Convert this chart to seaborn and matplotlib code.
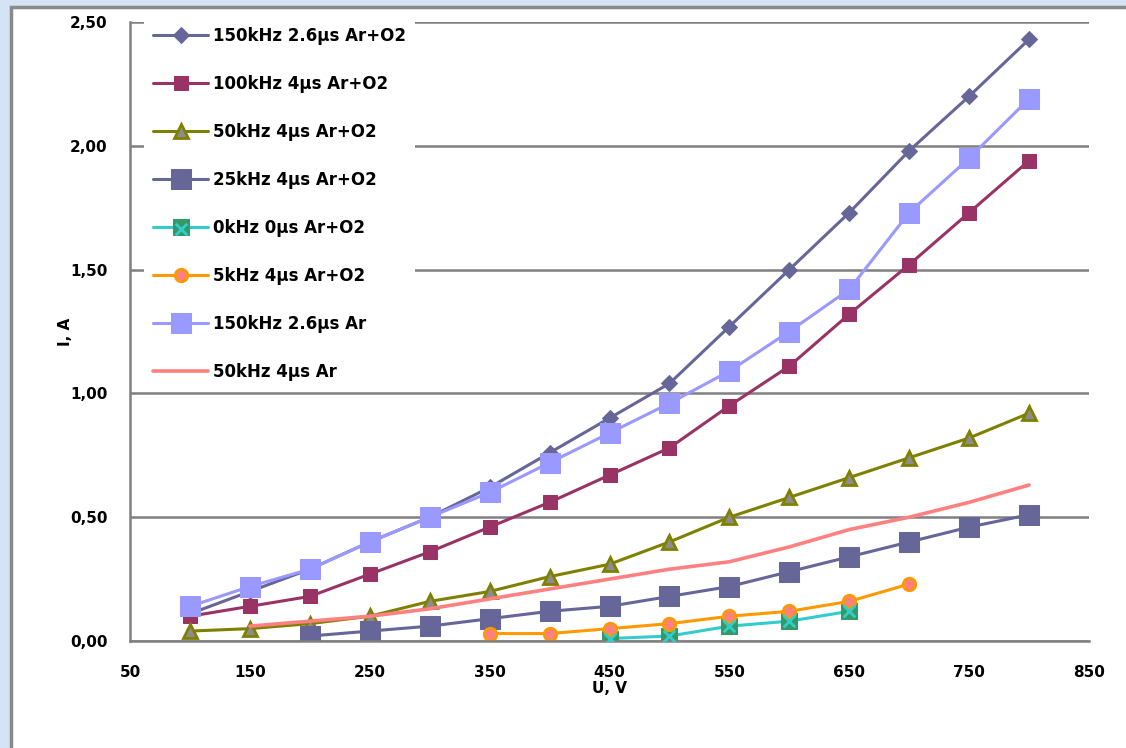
import numpy as np
import pandas as pd
import matplotlib
matplotlib.use("Agg")
import matplotlib.pyplot as plt
from matplotlib.patches import Rectangle
from matplotlib.ticker import FuncFormatter
import seaborn as sns

# напряжение, В
u_full = [100, 150, 200, 250, 300, 350, 400, 450, 500, 550, 600, 650, 700, 750, 800]
u_25 = [200, 250, 300, 350, 400, 450, 500, 550, 600, 650, 700, 750, 800]
u_0 = [450, 500, 550, 600, 650]
u_5 = [350, 400, 450, 500, 550, 600, 650, 700]
u_ar50 = [150, 200, 250, 300, 350, 400, 450, 500, 550, 600, 650, 700, 750, 800]

# ток, А
i_150_o2 = [0.11, 0.20, 0.29, 0.40, 0.50, 0.62, 0.76, 0.90, 1.04, 1.27, 1.50, 1.73, 1.98, 2.20, 2.43]
i_100_o2 = [0.10, 0.14, 0.18, 0.27, 0.36, 0.46, 0.56, 0.67, 0.78, 0.95, 1.11, 1.32, 1.52, 1.73, 1.94]
i_50_o2 = [0.04, 0.05, 0.07, 0.10, 0.16, 0.20, 0.26, 0.31, 0.40, 0.50, 0.58, 0.66, 0.74, 0.82, 0.92]
i_25_o2 = [0.02, 0.04, 0.06, 0.09, 0.12, 0.14, 0.18, 0.22, 0.28, 0.34, 0.40, 0.46, 0.51]
i_0_o2 = [0.01, 0.02, 0.06, 0.08, 0.12]
i_5_o2 = [0.03, 0.03, 0.05, 0.07, 0.10, 0.12, 0.16, 0.23]
i_150_ar = [0.14, 0.22, 0.29, 0.40, 0.50, 0.60, 0.72, 0.84, 0.96, 1.09, 1.25, 1.42, 1.73, 1.95, 2.19]
i_50_ar = [0.06, 0.08, 0.10, 0.13, 0.17, 0.21, 0.25, 0.29, 0.32, 0.38, 0.45, 0.50, 0.56, 0.63]

labels = ['150kHz 2.6µs Ar+O2', '100kHz 4µs Ar+O2', '50kHz 4µs Ar+O2', '25kHz 4µs Ar+O2',
          '0kHz 0µs Ar+O2', '5kHz 4µs Ar+O2', '150kHz 2.6µs Ar', '50kHz 4µs Ar']

sns.set_style("white")
plt.rcParams['font.family'] = ['DejaVu Sans']
plt.rcParams['font.weight'] = 'bold'
plt.rcParams['text.color'] = 'black'
plt.rcParams['axes.labelcolor'] = 'black'
plt.rcParams['xtick.labelcolor'] = 'black'
plt.rcParams['ytick.labelcolor'] = 'black'

fig = plt.figure(figsize=(11.26, 7.48), dpi=100, facecolor='#D5E4F4')
# белая рамка диаграммы
fig.patches.append(Rectangle((11 / 1126, -0.1), 1.2, 1.1 - 7 / 748, transform=fig.transFigure,
                             facecolor='white', edgecolor='#8A8A8A', linewidth=2.5, zorder=-5))
ax = fig.add_axes([130 / 1126, (748 - 641) / 748, (1089 - 130) / 1126, (641 - 22) / 748])
ax.set_facecolor('none')

lw = 2.2
sns.lineplot(x=u_full, y=i_150_o2, ax=ax, color='#666699', lw=lw, marker='D', markersize=8,
             markeredgecolor='#666699', label=labels[0])
sns.lineplot(x=u_full, y=i_100_o2, ax=ax, color='#993366', lw=lw, marker='s', markersize=10,
             markeredgecolor='#993366', label=labels[1])
sns.lineplot(x=u_full, y=i_50_o2, ax=ax, color='#808000', lw=lw, marker='^', markersize=10,
             markerfacecolor='#8C8C8C', markeredgecolor='#808000', markeredgewidth=2, label=labels[2])
sns.lineplot(x=u_25, y=i_25_o2, ax=ax, color='#666699', lw=lw, marker='s', markersize=14,
             markeredgecolor='#666699', label=labels[3])
sns.lineplot(x=u_0, y=i_0_o2, ax=ax, color='#33CCCC', lw=lw, marker='s', markersize=12,
             markerfacecolor='#339966', markeredgecolor='#339966', label=labels[4])
x_marks = ax.scatter(u_0, i_0_o2, marker='x', s=70, color='#33CCCC', linewidths=2, zorder=5)
sns.lineplot(x=u_5, y=i_5_o2, ax=ax, color='#FF9900', lw=lw, marker='o', markersize=9,
             markerfacecolor='#FF8080', markeredgecolor='#FF9900', markeredgewidth=2, label=labels[5])
sns.lineplot(x=u_full, y=i_150_ar, ax=ax, color='#9999FF', lw=lw, marker='s', markersize=14,
             markeredgecolor='#9999FF', label=labels[6])
sns.lineplot(x=u_ar50, y=i_50_ar, ax=ax, color='#FF8080', lw=2.6, label=labels[7])

ax.set_xlim(50, 850)
ax.set_ylim(0, 2.5)
ax.set_xticks(np.arange(50, 851, 100))
ax.set_yticks(np.arange(0, 2.51, 0.5))
ax.yaxis.set_major_formatter(FuncFormatter(lambda v, p: f'{v:.2f}'.replace('.', ',')))
ax.grid(axis='y', color='#808080', lw=1.8)
ax.set_axisbelow(True)
for side in ['top', 'right']:
    ax.spines[side].set_visible(False)
for side in ['left', 'bottom']:
    ax.spines[side].set_color('#808080')
    ax.spines[side].set_linewidth(1.8)
ax.tick_params(axis='both', direction='out', length=6, width=1.8, color='#808080',
               labelsize=11)
ax.tick_params(axis='x', pad=11)
ax.tick_params(axis='y', pad=10)
for t in ax.get_xticklabels() + ax.get_yticklabels():
    t.set_fontweight('bold')

ax.set_xlabel('U, V', fontsize=11, fontweight='bold', labelpad=1)
ax.set_ylabel('I, A', fontsize=11, fontweight='bold', labelpad=-2)

handles, labs = ax.get_legend_handles_labels()
handles[4] = (handles[4], x_marks)
leg = ax.legend(handles, labs, loc='upper left', bbox_to_anchor=(0.006, 1.02), frameon=True,
                framealpha=1, facecolor='white', edgecolor='none', fontsize=12,
                handlelength=3.3, labelspacing=1.8, handletextpad=0.3, borderpad=0.55)
for t in leg.get_texts():
    t.set_fontweight('bold')

fig.savefig('out.png', dpi=100, facecolor=fig.get_facecolor())
